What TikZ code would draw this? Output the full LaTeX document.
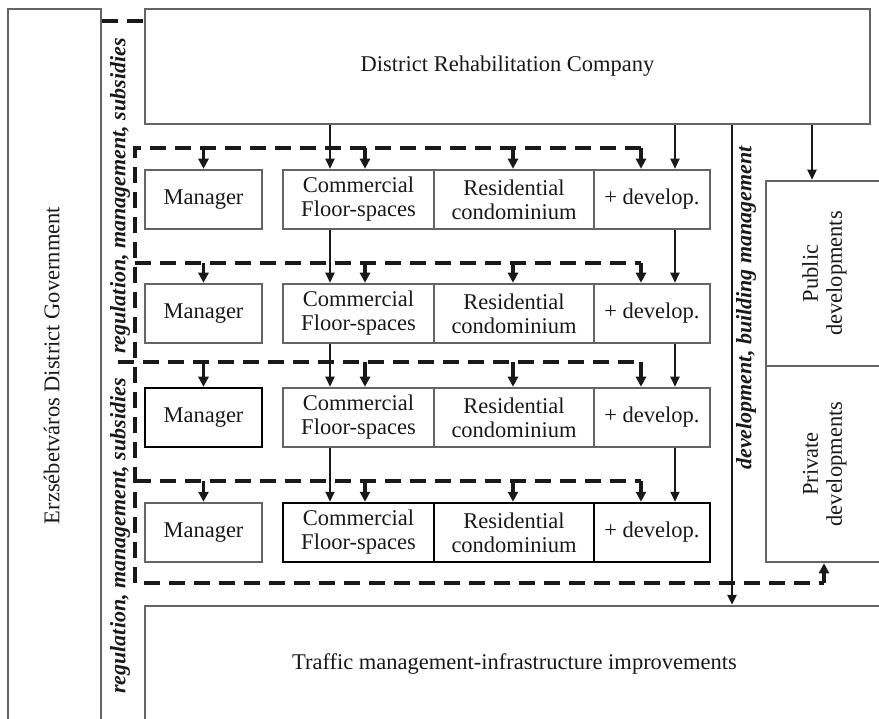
\documentclass[tikz,border=0pt]{standalone}
\usepackage{fontspec}
\setmainfont{Liberation Serif}
\usetikzlibrary{arrows.meta}
\definecolor{boxgray}{RGB}{100,100,100}
\definecolor{ink}{RGB}{25,25,25}
\newcommand{\rtext}[1]{\rotatebox{90}{\begin{tabular}{@{}c@{}}#1\end{tabular}}}
\begin{document}
\begin{tikzpicture}[x=1pt,y=-1pt,
  box/.style={draw=boxgray, line width=2.5pt, inner sep=0pt, align=center, text=ink,
              font=\fontsize{22.5}{24}\selectfont},
  bbox/.style={box, draw=black},
  lab/.style={font=\fontsize{22}{24}\selectfont\bfseries\itshape, rotate=90, inner sep=0pt, text=ink},
  arr/.style={line width=1.8pt, draw=ink, -{Triangle[length=10pt,width=9pt]}},
  drop/.style={line width=3.5pt, draw=ink, -{Triangle[length=10pt,width=10pt]}},
  dashl/.style={line width=3.5pt, draw=ink, dash pattern=on 16pt off 9pt},
]
\useasboundingbox (0,0) rectangle (879,719);
\clip (0,0) rectangle (879,719);

% big boxes
\node[box, minimum width=93pt, minimum height=713pt] (gov) at (54.5,365.5)
  {\rtext{Erzsébetváros District Government}};
\node[box, minimum width=725pt, minimum height=115pt] (drc) at (507.5,66.5)
  {District Rehabilitation Company};
\node[box, minimum width=118pt, minimum height=185pt] (pub) at (825,273.5)
  {\rtext{Public\\developments}};
\node[box, minimum width=118pt, minimum height=196pt] (priv) at (825,464)
  {\rtext{Private\\developments}};
\node[box, minimum width=739pt, minimum height=116pt] (traf) at (514.5,664)
  {Traffic management-infrastructure improvements};

% rows
\foreach \i/\y/\ms/\gs in {1/199.5/box/box, 2/313.5/box/box, 3/417.5/bbox/box, 4/532.5/box/bbox}{
  \node[\ms, minimum width=117pt, minimum height=59pt] (m\i) at (203.5,\y) {Manager};
  \node[\gs, minimum width=151pt, minimum height=59pt] (c\i) at (358.5,\y) {Commercial\\Floor-spaces};
  \node[\gs, minimum width=160pt, minimum height=59pt] (r\i) at (514,\y) {Residential\\condominium};
  \node[\gs, minimum width=116pt, minimum height=59pt] (d\i) at (652,\y) {+ develop.};
}

% column coordinates
\coordinate (colA) at (330,0);
\coordinate (colB) at (365,0);
\coordinate (colC) at (513,0);
\coordinate (colD) at (641,0);
\coordinate (colE) at (675,0);
\coordinate (colV) at (732,0);
\coordinate (colP) at (812,0);
\coordinate (colQ) at (824,0);
\coordinate (colL) at (135,0);

% dashed row lines
\coordinate (h1) at (0,148);
\coordinate (h2) at (0,263);
\coordinate (h3) at (0,362);
\coordinate (h4) at (0,481);
\coordinate (hb) at (0,583);
\coordinate (ht) at (0,21);

\draw[dashl] (colD |- h1) -- (colL |- h1) -- (colL |- hb) -- (colQ |- hb);
\draw[dashl] (colL |- h2) -- (colD |- h2);
\draw[dashl] (118,362) -- (colD |- h3);
\draw[dashl] (colL |- h4) -- (colD |- h4);
\draw[dashl] (gov.east |- ht) -- (149,21);

% drops from dashed lines
\foreach \i in {1,2,3,4}{
  \draw[drop] (m\i.north |- h\i) -- (m\i.north);
  \draw[drop] (colB |- h\i) -- (c\i.north -| colB);
  \draw[drop] (colC |- h\i) -- (r\i.north -| colC);
  \draw[drop] (colD |- h\i) -- (d\i.north -| colD);
}
\draw[drop] (colQ |- hb) -- (priv.south -| colQ);

% solid arrows
\draw[arr] (drc.south -| colA) -- (c1.north -| colA);
\draw[arr] (c1.south -| colA) -- (c2.north -| colA);
\draw[arr] (c2.south -| colA) -- (c3.north -| colA);
\draw[arr] (c3.south -| colA) -- (c4.north -| colA);
\draw[arr] (drc.south -| colE) -- (d1.north -| colE);
\draw[arr] (d1.south -| colE) -- (d2.north -| colE);
\draw[arr] (d2.south -| colE) -- (d3.north -| colE);
\draw[arr] (d3.south -| colE) -- (d4.north -| colE);
\draw[arr, line width=2.8pt] (drc.south -| colV) -- (traf.north -| colV);
\draw[arr, line width=2.3pt] (drc.south -| colP) -- (pub.north -| colP);

% labels
\node[lab] (reg1) at (120,196) {regulation, management, subsidies};
\node[lab] (reg2) at (120,536) {regulation, management, subsidies};
\node[lab] (devl) at (746,308) {development, building management};
\end{tikzpicture}
\end{document}
